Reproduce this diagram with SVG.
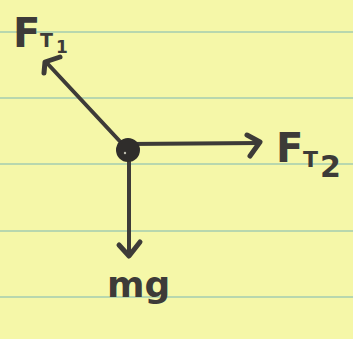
<svg xmlns="http://www.w3.org/2000/svg" width="353" height="339" viewBox="0 0 353 339">
<defs>
<style>
.paper{fill:#f5f7a8}
.rule{stroke:#a3cdb0;stroke-width:1.6;fill:none}
.force{stroke:#3d3b38;stroke-width:4;fill:none;stroke-linecap:round;stroke-linejoin:round}
.head{stroke:#3d3b38;stroke-width:5;fill:none;stroke-linecap:round;stroke-linejoin:round}
.lbl{font-family:"DejaVu Sans",sans-serif;font-weight:bold;fill:#3d3b38}
</style>
</defs>
<rect class="paper" x="0" y="0" width="353" height="339"/>
<g id="ruled-lines">
<line class="rule" x1="0" y1="32" x2="353" y2="32"/>
<line class="rule" x1="0" y1="98" x2="353" y2="98"/>
<line class="rule" x1="0" y1="164" x2="353" y2="164"/>
<line class="rule" x1="0" y1="231" x2="353" y2="231"/>
<line class="rule" x1="0" y1="297" x2="353" y2="297"/>
</g>
<g id="connectors">
<line class="force" x1="128" y1="150" x2="46" y2="62"/>
<polyline class="head" points="60,57 45,62 44,73"/>
<line class="force" x1="128" y1="144" x2="259" y2="143"/>
<polyline class="head" points="247,135 260,142 250,156"/>
<line class="force" x1="129" y1="150" x2="129" y2="255"/>
<polyline class="head" points="119,245 129,256 140,242"/>
</g>
<g id="body">
<circle cx="128" cy="150" r="12" fill="#2f2d2b"/>
<circle cx="125" cy="153" r="1.2" fill="#bdbdb0"/>
</g>
<g id="label-FT1">
<text class="lbl" x="13" y="47" font-size="40">F</text>
<text class="lbl" x="40" y="47" font-size="19">T</text>
<text class="lbl" x="56" y="53" font-size="17">1</text>
</g>
<g id="label-FT2">
<text class="lbl" x="276" y="162" font-size="40">F</text>
<text class="lbl" x="303" y="167" font-size="22">T</text>
<text class="lbl" x="320" y="177" font-size="30">2</text>
</g>
<g id="label-mg">
<text class="lbl" x="107" y="297" font-size="36">mg</text>
</g>
</svg>
